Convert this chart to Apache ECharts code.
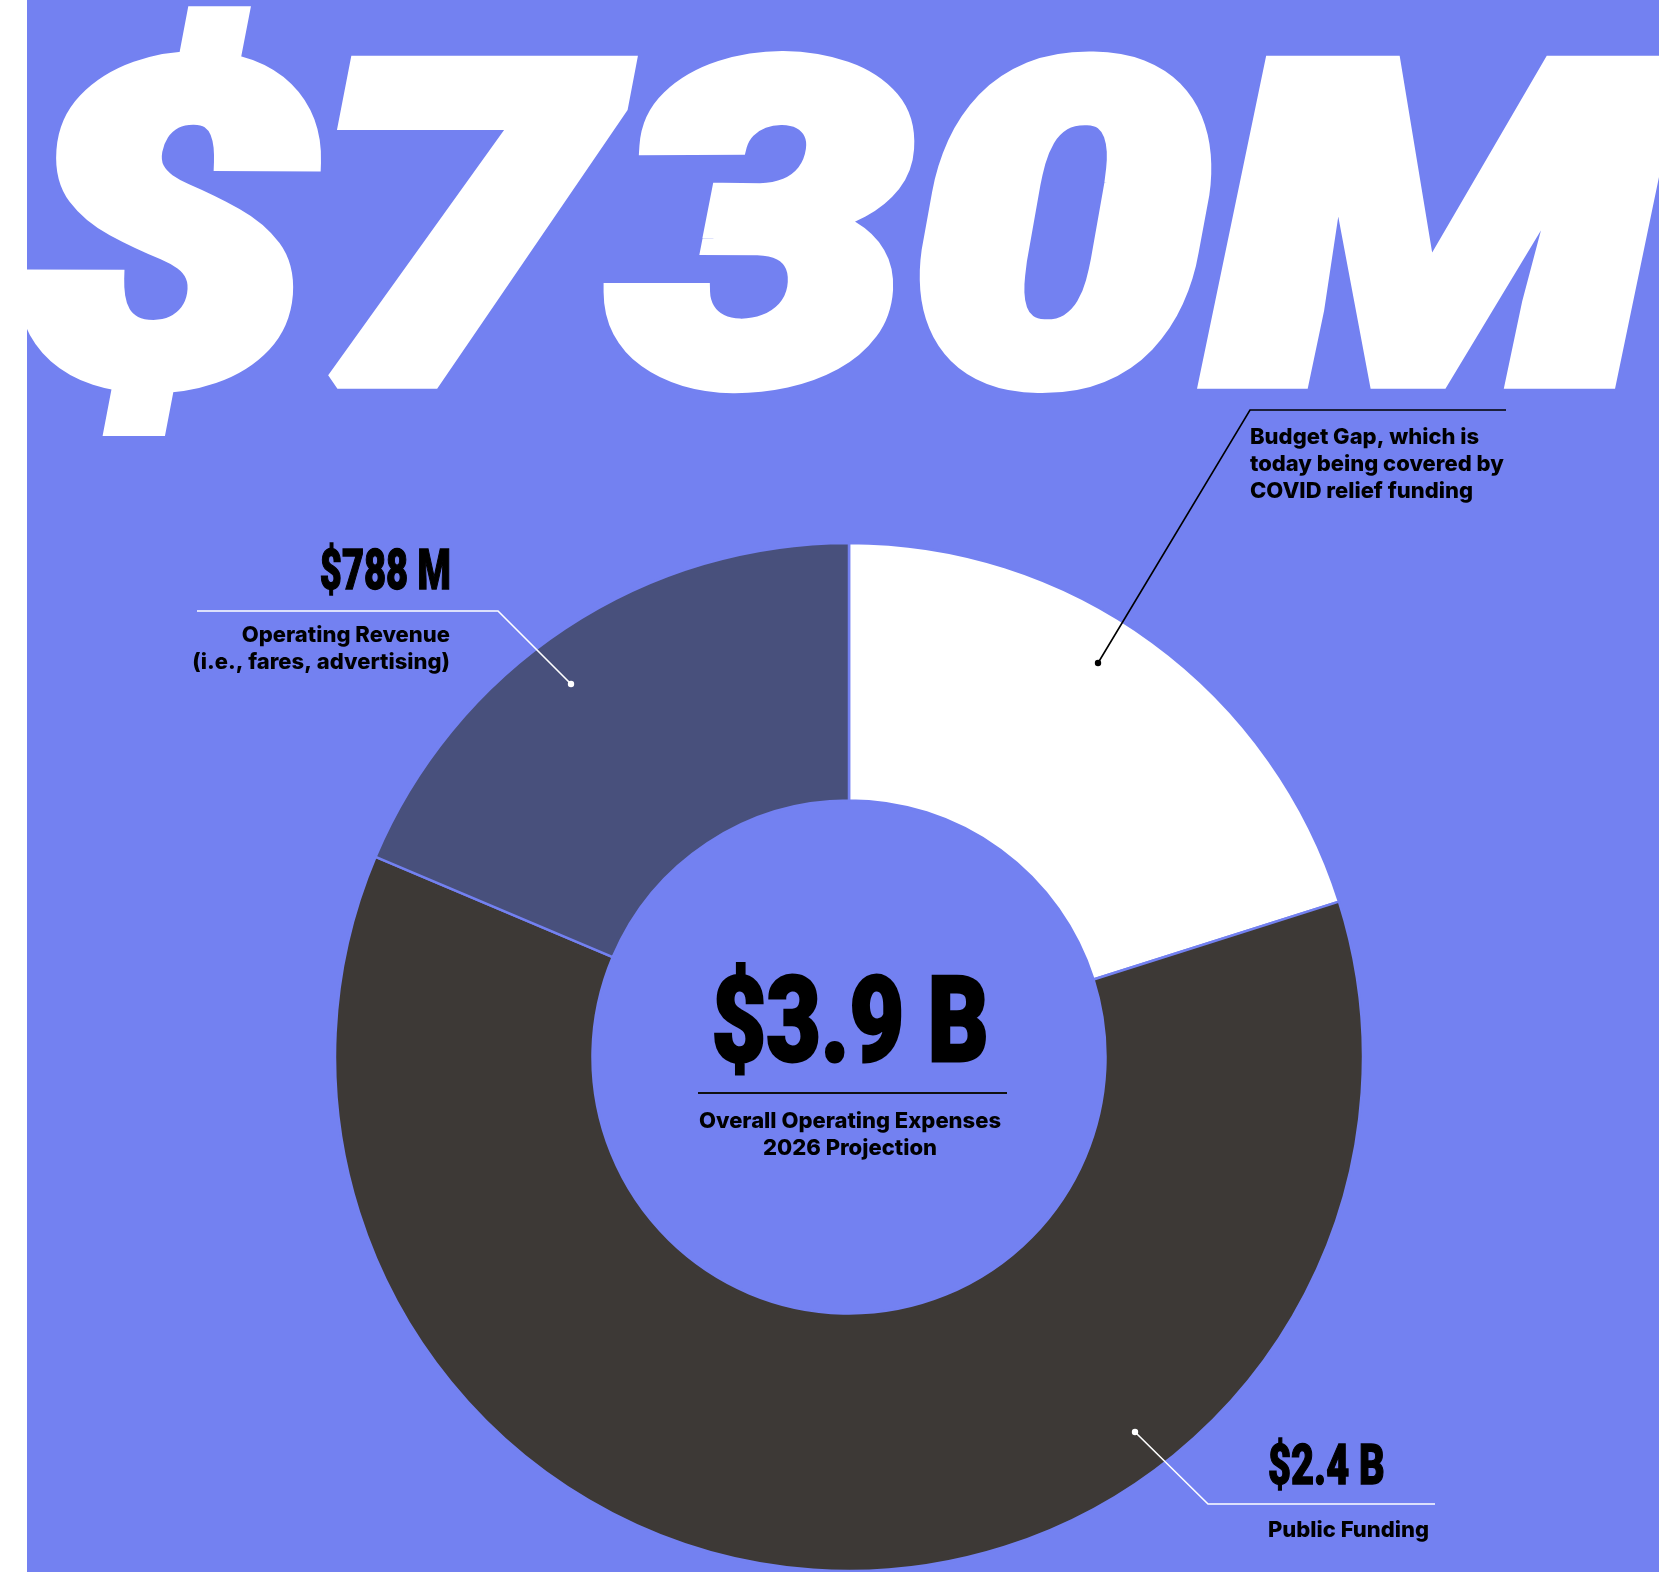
<!DOCTYPE html>
<html>
<head>
<meta charset="utf-8">
<script src="https://cdn.jsdelivr.net/npm/echarts@6/dist/echarts.min.js"></script>
<style>
html, body { margin: 0; padding: 0; background: #fff; }
#chart { width: 1659px; height: 1572px; }
</style>
</head>
<body>
<div id="chart"></div>
<script>
// slice sizes as drawn ($M), clockwise from 12 o'clock
let sliceNames = ['Budget Gap', 'Public Funding', 'Operating Revenue'];
let sliceValues = [788, 2400, 730];

let headline = '$730M';
let totalLabel = '$3.9 B';
let totalCaption = 'Overall Operating Expenses\n2026 Projection';
let amountLabels = ['', '$2.4 B', '$788 M'];
let captions = [
    'Budget Gap, which is\ntoday being covered by\nCOVID relief funding',
    'Public Funding',
    'Operating Revenue\n(i.e., fares, advertising)'
];

let bg = '#7381F1';
let smallFont = 'Inter, "Noto Sans", sans-serif';
let numFont = 'Roboto, "Noto Sans", sans-serif';

// condensed number label (scaled Roboto Black)
function numText(txt, x, y, size, sx, align) {
    return {
        type: 'text', x: x, y: y, scaleX: sx, z: 20,
        style: {
            text: txt, fill: '#000', fontFamily: numFont, fontWeight: 900,
            fontSize: size, align: align, verticalAlign: 'middle',
            stroke: '#000', lineWidth: size / 40
        }
    };
}
function capText(txt, x, y, align) {
    return {
        type: 'text', x: x, y: y, z: 20,
        style: {
            text: txt, fill: '#000', fontFamily: smallFont, fontWeight: 800,
            fontSize: 22, lineHeight: 27, align: align, verticalAlign: 'top'
        }
    };
}
function leader(points, color) {
    let end = points[points.length - 1];
    return [{
        type: 'polyline', z: 20,
        shape: { points: points },
        style: { stroke: color, lineWidth: 1.6, fill: null }
    }, {
        type: 'circle', z: 21,
        shape: { cx: end[0], cy: end[1], r: 3.2 },
        style: { fill: color }
    }];
}

let graphics = [
    {
        type: 'text', x: 14, y: 269, scaleX: 1.2, z: 1,
        style: {
            text: headline, fill: '#fff', fontFamily: numFont, fontWeight: 900,
            fontStyle: 'italic', fontSize: 443, align: 'left', verticalAlign: 'middle',
            stroke: '#fff', lineWidth: 18
        }
    },
    numText(totalLabel, 850, 1031, 118, 0.8, 'center'),
    { type: 'line', z: 20, shape: { x1: 698, y1: 1093, x2: 1007, y2: 1093 }, style: { stroke: '#111', lineWidth: 2 } },
    {
        type: 'text', x: 850, y: 1108, z: 20,
        style: {
            text: totalCaption, fill: '#000', fontFamily: smallFont, fontWeight: 800,
            fontSize: 22, lineHeight: 27, align: 'center', verticalAlign: 'top'
        }
    },
    numText(amountLabels[2], 451, 575, 56, 0.68, 'right'),
    capText(captions[2], 450, 622, 'right'),
    numText(amountLabels[1], 1268, 1470, 56, 0.71, 'left'),
    capText(captions[1], 1268, 1517, 'left'),
    capText(captions[0], 1250, 424, 'left'),
    { type: 'rect', z: 100, shape: { x: 0, y: 0, width: 27, height: 1572 }, style: { fill: '#fff' } }
];
graphics = graphics
    .concat(leader([[197, 611], [498, 611], [571, 684]], '#fff'))
    .concat(leader([[1506, 410], [1250, 410], [1098, 663]], '#000'))
    .concat(leader([[1435, 1504], [1208, 1504], [1135, 1432]], '#fff'));

let option = {
    animation: false,
    backgroundColor: bg,
    color: ['#ffffff', '#3d3936', '#48507c'],
    graphic: graphics,
    series: [{
        type: 'pie',
        center: [849, 1057],
        radius: [256.5, 514],
        startAngle: 90,
        clockwise: true,
        silent: true,
        label: { show: false },
        labelLine: { show: false },
        itemStyle: { borderColor: bg, borderWidth: 2.5 },
        data: sliceNames.map((n, i) => ({ name: n, value: sliceValues[i] }))
    }]
};

echarts.init(document.getElementById('chart')).setOption(option);
</script>
</body>
</html>
